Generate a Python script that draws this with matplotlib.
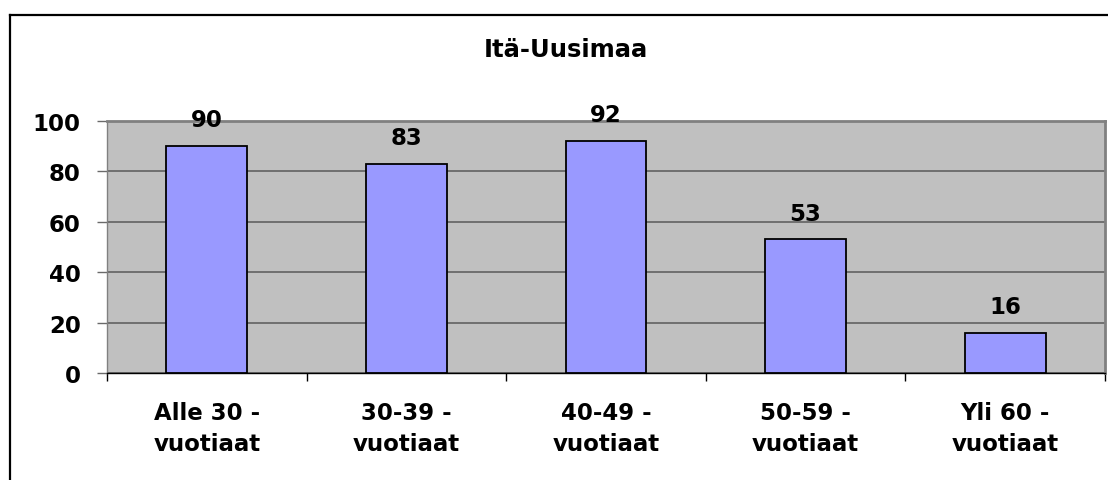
import matplotlib
matplotlib.use("Agg")
import matplotlib.pyplot as plt
from matplotlib.lines import Line2D
import numpy as np

plt.rcParams['font.family'] = ['DejaVu Sans']
plt.rcParams['font.weight'] = 'bold'

# data
otsikko = "Itä-Uusimaa"
ryhmat = ["Alle 30 -\nvuotiaat", "30-39 -\nvuotiaat", "40-49 -\nvuotiaat",
          "50-59 -\nvuotiaat", "Yli 60 -\nvuotiaat"]
arvot = [90, 83, 92, 53, 16]
y_ticks = [0, 20, 40, 60, 80, 100]

fig = plt.figure(figsize=(11.08, 4.81), dpi=100)
ax = fig.add_axes([0.0966, 0.2225, 0.9007, 0.5239])
ax.set_facecolor('#C0C0C0')

x = np.arange(len(arvot))
palkit = ax.bar(x, arvot, width=0.405, color='#9999FF', edgecolor='black',
                linewidth=1.3, zorder=3)

for xi, v in zip(x, arvot):
    ax.annotate(str(v), (xi, v), xytext=(0, 19), textcoords='offset points',
                ha='center', va='center', fontsize=16.5, fontweight='bold')

ax.set_xlim(-0.5, len(arvot) - 0.5)
ax.set_ylim(0, 100)
ax.set_yticks(y_ticks)
ax.set_yticklabels([str(t) for t in y_ticks], fontsize=16.5, fontweight='bold')
ax.yaxis.grid(True, color='#5a5a5a', linewidth=1.1, zorder=1)
ax.set_axisbelow(True)

ax.set_xticks(x)
ax.set_xticklabels(ryhmat, fontsize=16.5, fontweight='bold', linespacing=1.45)
ax.set_xticks(np.arange(len(arvot) + 1) - 0.5, minor=True)
ax.tick_params(axis='x', which='major', length=0, pad=20)
ax.tick_params(axis='x', which='minor', length=6, width=1, color='black')
ax.tick_params(axis='y', length=7, width=1, color='#6a6a6a', pad=12)

for s in ['top', 'right', 'left']:
    ax.spines[s].set_color('#808080')
ax.spines['top'].set_linewidth(2)
ax.spines['right'].set_linewidth(2)
ax.spines['left'].set_linewidth(1)
ax.spines['bottom'].set_color('black')
ax.spines['bottom'].set_linewidth(1)

fig.text(0.511, 0.896, otsikko, ha='center', va='center', fontsize=17.5,
         fontweight='bold')

# ulkoreunus
fig.add_artist(Line2D([9.5 / 1108, 9.5 / 1108], [0, 1 - 15.5 / 481],
                      transform=fig.transFigure, color='black', linewidth=1.6))
fig.add_artist(Line2D([9.5 / 1108, 1], [1 - 15.5 / 481, 1 - 15.5 / 481],
                      transform=fig.transFigure, color='black', linewidth=1.6))

fig.savefig('out.png', dpi=100)
